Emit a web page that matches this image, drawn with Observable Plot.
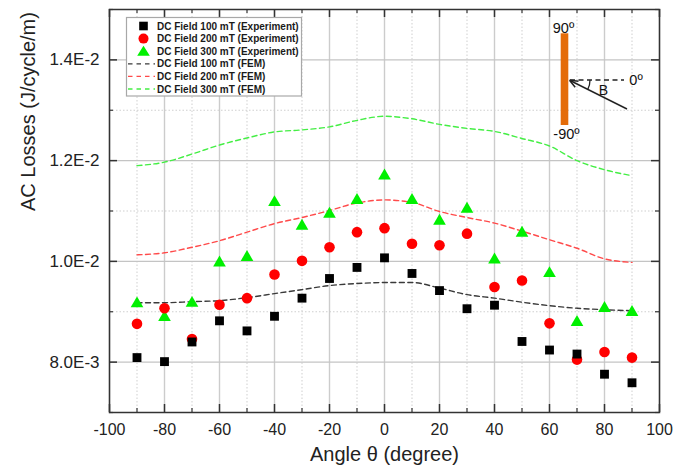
<!DOCTYPE html>
<html><head><meta charset="utf-8">
<script src="https://cdn.jsdelivr.net/npm/d3@7"></script>
<script src="https://cdn.jsdelivr.net/npm/@observablehq/plot@0.6"></script>
<style>
body{margin:0;background:#fff;font-family:Arial,"Liberation Sans",sans-serif;}
#wrap{position:relative;width:689px;height:474px;overflow:hidden;}
#wrap svg.overlay{position:absolute;left:0;top:0;}
</style></head><body><div id="wrap"></div>
<script>
// Angle θ (degree)
const angles = [-90,-80,-70,-60,-50,-40,-30,-20,-10,0,10,20,30,40,50,60,70,80,90];
// AC losses, in units of 1E-3 J/cycle/m
const exp100 = [8.09,8.01,8.40,8.82,8.62,8.91,9.27,9.66,9.88,10.07,9.76,9.42,9.06,9.13,8.41,8.24,8.16,7.76,7.59];
const exp200 = [8.76,9.07,8.46,9.14,9.27,9.74,10.01,10.28,10.58,10.66,10.35,10.32,10.55,9.49,9.62,8.77,8.05,8.20,8.09];
const exp300 = [9.16,8.89,9.17,9.97,10.08,11.17,10.70,10.94,11.21,11.70,11.21,10.80,11.04,10.03,10.56,9.76,8.79,9.07,8.99];
const fem100 = [9.18,9.18,9.20,9.22,9.28,9.36,9.44,9.52,9.56,9.58,9.58,9.47,9.34,9.27,9.19,9.12,9.07,9.04,9.02];
const fem200 = [10.13,10.17,10.28,10.41,10.58,10.75,10.87,11.01,11.16,11.22,11.17,10.99,10.87,10.76,10.60,10.43,10.26,10.05,9.98];
const fem300 = [11.90,11.97,12.13,12.31,12.45,12.57,12.61,12.67,12.80,12.88,12.83,12.72,12.64,12.58,12.44,12.29,12.00,11.82,11.70];

const xMajor = [-100,-80,-60,-40,-20,0,20,40,60,80,100];
const xMinor = [-90,-70,-50,-30,-10,10,30,50,70,90];
const yMajor = [0.008,0.010,0.012,0.014];
const yMinor = [0.007,0.009,0.011,0.013,0.015];

const legendLabels = ["DC Field 100 mT (Experiment)","DC Field 200 mT (Experiment)","DC Field 300 mT (Experiment)",
  "DC Field 100 mT (FEM)","DC Field 200 mT (FEM)","DC Field 300 mT (FEM)"];

const xTitle = "Angle θ (degree)";
const yTitle = "AC Losses (J/cycle/m)";

const toRows = (vals) => angles.map((a, i) => ({angle: a, loss: vals[i] * 1e-3}));

const W = 689, H = 474, mL = 109, mR = 30, mT = 9, mB = 62;
const pW = W - mL - mR, pH = H - mT - mB;
const majLen = 8, minLen = 4;
const fmtY = v => v.toExponential(1).toUpperCase();

const cBlack = "#000000", cRed = "#ff0000", cGreen = "#00f000";
const lBlack = "#3a3a3a", lRed = "#ff4a4a", lGreen = "#44ee44";
const dash = "5,3.5";

const chart = Plot.plot({
  width: W, height: H,
  marginLeft: mL, marginRight: mR, marginTop: mT, marginBottom: mB,
  style: {fontFamily: 'Arial, "Liberation Sans", sans-serif', color: "#222", background: "#fff"},
  x: {domain: [-100, 100]},
  y: {domain: [0.007, 0.015]},
  marks: [
    // grid
    Plot.ruleX(xMinor, {x: d => d, stroke: "#cfcfcf", strokeDasharray: "1.5,2", strokeWidth: 1}),
    Plot.ruleY(yMinor, {y: d => d, stroke: "#cfcfcf", strokeDasharray: "1.5,2", strokeWidth: 1}),
    Plot.ruleX(xMajor, {x: d => d, stroke: "#cccccc", strokeWidth: 1.4}),
    Plot.ruleY(yMajor, {y: d => d, stroke: "#c4c4c4", strokeWidth: 1.4}),
    // FEM lines
    Plot.line(toRows(fem100), {x: "angle", y: "loss", stroke: lBlack, strokeWidth: 1.4, strokeDasharray: dash, curve: "monotone-x"}),
    Plot.line(toRows(fem200), {x: "angle", y: "loss", stroke: lRed, strokeWidth: 1.4, strokeDasharray: dash, curve: "monotone-x"}),
    Plot.line(toRows(fem300), {x: "angle", y: "loss", stroke: lGreen, strokeWidth: 1.4, strokeDasharray: dash, curve: "monotone-x"}),
    // Experiments
    Plot.dot(toRows(exp300), {x: "angle", y: "loss", symbol: "triangle", fill: cGreen, r: 4.7}),
    Plot.dot(toRows(exp200), {x: "angle", y: "loss", symbol: "circle", fill: cRed, r: 5.3}),
    Plot.dot(toRows(exp100), {x: "angle", y: "loss", symbol: "square", fill: cBlack, r: 5.0}),
    // frame
    Plot.frame({stroke: "#333", strokeWidth: 1.5}),
    // inward ticks: bottom, top, left, right
    Plot.tickX(xMajor, {x: d => d, insetTop: pH - majLen, stroke: "#333", strokeWidth: 1.5}),
    Plot.tickX(xMinor, {x: d => d, insetTop: pH - minLen, stroke: "#333", strokeWidth: 1.2}),
    Plot.tickX(xMajor, {x: d => d, insetBottom: pH - majLen, stroke: "#333", strokeWidth: 1.5}),
    Plot.tickX(xMinor, {x: d => d, insetBottom: pH - minLen, stroke: "#333", strokeWidth: 1.2}),
    Plot.tickY(yMajor, {y: d => d, insetRight: pW - majLen, stroke: "#333", strokeWidth: 1.5}),
    Plot.tickY(yMinor, {y: d => d, insetRight: pW - minLen, stroke: "#333", strokeWidth: 1.2}),
    Plot.tickY(yMajor, {y: d => d, insetLeft: pW - majLen, stroke: "#333", strokeWidth: 1.5}),
    Plot.tickY(yMinor, {y: d => d, insetLeft: pW - minLen, stroke: "#333", strokeWidth: 1.2}),
    // tick labels
    Plot.axisX({ticks: xMajor, tickSize: 0, tickPadding: 11, fontSize: 16, tickFormat: d => String(d), label: null, fill: "#222"}),
    Plot.axisY({ticks: yMajor, tickSize: 0, tickPadding: 10, fontSize: 17, tickFormat: fmtY, label: null, fill: "#222"}),
    // titles
    Plot.text([xTitle], {text: d => d, frameAnchor: "bottom", dy: 48, fontSize: 20, fill: "#222"}),
    Plot.text([yTitle], {text: d => d, frameAnchor: "left", dx: -81, rotate: -90, fontSize: 20, fill: "#222"})
  ]
});

const wrap = document.getElementById("wrap");
wrap.appendChild(chart);

// Overlay: legend and inset diagram
const NS = "http://www.w3.org/2000/svg";
const ov = document.createElementNS(NS, "svg");
ov.setAttribute("class", "overlay");
ov.setAttribute("width", W); ov.setAttribute("height", H);
const el = (tag, attrs, parent = ov) => {
  const e = document.createElementNS(NS, tag);
  for (const k in attrs) e.setAttribute(k, attrs[k]);
  parent.appendChild(e);
  return e;
};

// legend box
const lgX = 126.5, lgY = 17.5, lgW = 175, lgH = 78.5, rowY0 = 26, rowDy = 12.6, symX = 143.5, txtX = 157;
el("rect", {x: lgX, y: lgY, width: lgW, height: lgH, fill: "#fff", stroke: "#a8a8a8", "stroke-width": 1.2});
legendLabels.forEach((lab, i) => {
  const cy = rowY0 + i * rowDy;
  if (i === 0) el("rect", {x: symX - 4.3, y: cy - 4.3, width: 8.6, height: 8.6, fill: cBlack});
  if (i === 1) el("circle", {cx: symX, cy: cy, r: 5, fill: cRed});
  if (i === 2) el("path", {d: `M${symX},${cy - 5.5}L${symX + 6.3},${cy + 4.5}L${symX - 6.3},${cy + 4.5}Z`, fill: cGreen});
  if (i >= 3) el("line", {x1: 128, x2: 155, y1: cy, y2: cy, stroke: [lBlack, lRed, lGreen][i - 3], "stroke-width": 1.3, "stroke-dasharray": "4.5,4"});
  const t = el("text", {x: txtX, y: cy, "dominant-baseline": "central", "font-size": 10, "font-weight": "bold", fill: "#1a1a1a", "font-family": "Arial, 'Liberation Sans', sans-serif"});
  t.textContent = lab;
});

// inset diagram
const ff = "Arial, 'Liberation Sans', sans-serif";
el("rect", {x: 560.7, y: 33.3, width: 7.6, height: 91.7, fill: "#e46c0a"});
const t90 = el("text", {x: 563.5, y: 28, "text-anchor": "middle", "dominant-baseline": "central", "font-size": 14.5, fill: "#111", "font-family": ff}); t90.textContent = "90º";
const tm90 = el("text", {x: 566.5, y: 133.5, "text-anchor": "middle", "dominant-baseline": "central", "font-size": 14.5, fill: "#111", "font-family": ff}); tm90.textContent = "-90º";
el("line", {x1: 570, y1: 80, x2: 624, y2: 80, stroke: "#222", "stroke-width": 1.4, "stroke-dasharray": "5,3.5"});
const t0 = el("text", {x: 636, y: 80, "text-anchor": "middle", "dominant-baseline": "central", "font-size": 14.5, fill: "#111", "font-family": ff}); t0.textContent = "0º";
el("line", {x1: 627, y1: 109, x2: 571, y2: 81, stroke: "#222", "stroke-width": 1.5});
el("path", {d: "M569.5,80.2 L578.5,81.2 M569.5,80.2 L575.2,87.2", stroke: "#222", "stroke-width": 1.5, fill: "none"});
el("path", {d: "M590,80 A21,21 0 0 1 587.8,89.4", stroke: "#222", "stroke-width": 1.3, fill: "none"});
const tB = el("text", {x: 603.5, y: 89.5, "text-anchor": "middle", "dominant-baseline": "central", "font-size": 14, fill: "#111", "font-family": ff}); tB.textContent = "B";

wrap.appendChild(ov);
</script></body></html>
